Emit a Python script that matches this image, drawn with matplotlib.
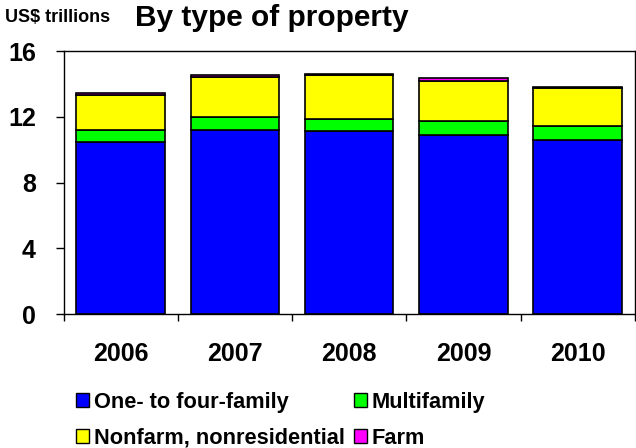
import matplotlib
matplotlib.use("Agg")
import matplotlib.pyplot as plt
from matplotlib.patches import Patch
import numpy as np

plt.rcParams['font.family'] = ['Liberation Sans', 'DejaVu Sans']
plt.rcParams['font.weight'] = 'bold'

years = ['2006', '2007', '2008', '2009', '2010']
one_to_four = [10.49, 11.18, 11.14, 10.87, 10.57]
multifamily = [0.69, 0.81, 0.75, 0.87, 0.87]
nonfarm = [2.12, 2.46, 2.66, 2.46, 2.31]
farm = [0.17, 0.07, 0.07, 0.16, 0.07]

names = ['One- to four-family', 'Multifamily', 'Nonfarm, nonresidential', 'Farm']
colors = ['#0000FF', '#00FF00', '#FFFF00', '#FF00FF']

fig = plt.figure(figsize=(6.36, 4.48), dpi=100)
ax = fig.add_axes([0.1, 0.299, 0.898, 0.587])

x = np.arange(len(years))
bottom = np.zeros(len(years))
for vals, col in zip([one_to_four, multifamily, nonfarm, farm], colors):
    ax.bar(x, vals, bottom=bottom, width=0.775, color=col, edgecolor='black', linewidth=1.2)
    bottom += np.array(vals)

ax.set_xlim(-0.5, 4.5)
ax.set_ylim(0, 16)
ax.set_yticks([0, 4, 8, 12, 16])
ax.set_xticks(x)
ax.set_xticklabels(years)
ax.set_xticks(np.arange(-0.5, 5, 1), minor=True)
ax.tick_params(axis='x', which='major', length=0, pad=20, labelsize=18)
ax.tick_params(axis='x', which='minor', length=5, direction='out', width=1)
ax.tick_params(axis='y', length=6, direction='out', width=1, pad=14, labelsize=18)
for lab in ax.get_xticklabels() + ax.get_yticklabels():
    lab.set_fontweight('bold')
for s in ax.spines.values():
    s.set_linewidth(1)

fig.text(5 / 636, 1 - 18 / 448, 'US$ trillions', fontsize=13, fontweight='bold', va='center')
fig.text(135 / 636, 1 - 18 / 448, 'By type of property', fontsize=21.5, fontweight='bold', va='center')

handles = [Patch(facecolor=c, edgecolor='black', linewidth=1) for c in colors]
order = [0, 2, 1, 3]
fig.legend([handles[i] for i in order], [names[i] for i in order], ncol=2,
           loc='upper left', bbox_to_anchor=(0.106, 0.145), frameon=False,
           prop={'size': 15.7, 'weight': 'bold'}, handlelength=0.6, handleheight=0.6,
           handletextpad=0.2, columnspacing=0.45, labelspacing=0.68, borderaxespad=0)

fig.savefig('out.png', dpi=100)
